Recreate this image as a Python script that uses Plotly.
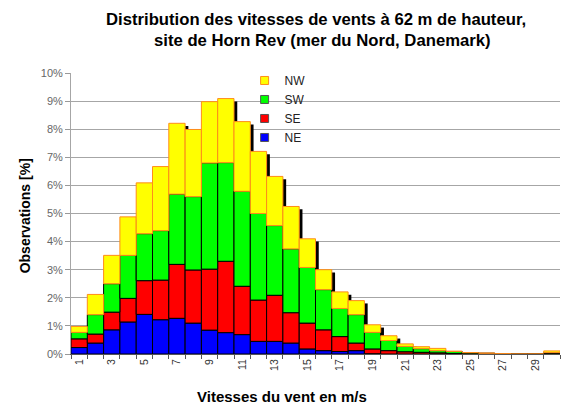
import plotly.graph_objects as go

speeds = list(range(1, 31))
NE = [0.23,0.39,0.86,1.14,1.41,1.22,1.27,1.10,0.85,0.76,0.69,0.45,0.45,0.39,0.18,0.12,0.09,0.12,0.01,0,0,0,0,0,0,0,0,0,0,0]
SE = [0.31,0.32,0.63,0.84,1.20,1.41,1.92,1.89,2.17,2.54,1.72,1.47,1.64,1.08,0.92,0.74,0.53,0.27,0.17,0.12,0.08,0.06,0.04,0.02,0.01,0.01,0,0,0,0.02]
SW = [0.23,0.69,1.01,1.53,1.67,1.76,2.50,2.61,3.78,3.51,3.38,3.08,2.48,2.27,1.98,1.43,1.00,1.01,0.59,0.36,0.19,0.13,0.08,0.07,0.04,0.02,0.01,0,0,0.03]
NW = [0.21,0.72,1.01,1.37,1.81,2.28,2.52,2.39,2.18,2.28,2.48,2.21,1.75,1.51,1.02,0.71,0.59,0.50,0.27,0.17,0.09,0.07,0.08,0.01,0,0,0,0,0,0.06]
y_ticks = list(range(0, 11))
x_ticks = list(range(1, 30, 2))

series = [("NE", NE, "#0000ff", "#000000"),
          ("SE", SE, "#ff0000", "#000000"),
          ("SW", SW, "#00ff00", "#000000"),
          ("NW", NW, "#ffff00", "#ff8c1a")]

totals = [a + b + c + d for a, b, c, d in zip(NE, SE, SW, NW)]

fig = go.Figure()
# drop shadow of each column
fig.add_trace(go.Bar(x=speeds, y=[t - 0.1 if t > 0.1 else 0 for t in totals], base=0,
                     width=1, offset=-0.3, marker=dict(color="#000000", line=dict(width=0)),
                     showlegend=False, hoverinfo="skip"))

base = [0.0] * len(speeds)
for name, vals, col, lcol in series:
    fig.add_trace(go.Bar(x=speeds, y=vals, base=list(base), name=name, width=1, offset=-0.5,
                         marker=dict(color=col, line=dict(color=lcol, width=1)),
                         showlegend=False))
    base = [b + v for b, v in zip(base, vals)]

# legend entries (small square swatches like the original)
for name, vals, col, lcol in series:
    fig.add_trace(go.Scatter(x=[None], y=[None], mode="markers", name=name,
                             marker=dict(symbol="square", size=8, color=col,
                                         line=dict(color=lcol if name == "NW" else "#555", width=1))))

fig.update_layout(
    width=563, height=408,
    barmode="overlay",
    margin=dict(l=71, r=3, t=73, b=54),
    paper_bgcolor="white", plot_bgcolor="white",
    font=dict(family="Liberation Sans, Arial, sans-serif", size=10, color="#333"),
    showlegend=True,
    legend=dict(x=0.355, y=1.025, xanchor="left", yanchor="top", traceorder="reversed",
                bgcolor="rgba(0,0,0,0)", font=dict(size=12, color="#222"),
                itemwidth=30, tracegroupgap=0),
    xaxis=dict(range=[0.5, 30.5], tickmode="array", tickvals=x_ticks, ticktext=[str(v) for v in x_ticks],
               tickangle=-90, ticks="outside", ticklen=0, showgrid=False,
               showline=True, linecolor="#555", linewidth=1,
               tickfont=dict(size=10.5, color="#333"),
               minor=dict(tickmode="linear", tick0=0.5, dtick=1, ticks="outside", ticklen=4,
                          tickcolor="#555", showgrid=False)),
    yaxis=dict(range=[0, 10], tickmode="array", tickvals=y_ticks, ticktext=[f"{v}%" for v in y_ticks],
               ticks="outside", ticklen=5, tickcolor="#999", showgrid=True, gridcolor="#a6a6a6",
               gridwidth=1, showline=True, linecolor="#a6a6a6", linewidth=1, zeroline=False,
               tickfont=dict(size=11, color="#666")),
    shapes=[dict(type="rect", xref="paper", yref="paper", x0=0.401, x1=0.48, y0=0.72, y1=1.02,
                 fillcolor="white", line=dict(width=0), layer="between")],
    annotations=[
        dict(text="<b>Distribution des vitesses de vents à 62 m de hauteur,</b>", xref="paper", yref="paper",
             x=0.5, y=1.192, xanchor="center", yanchor="middle", showarrow=False,
             font=dict(size=16.7, color="#000")),
        dict(text="<b>site de Horn Rev (mer du Nord, Danemark)</b>", xref="paper", yref="paper",
             x=0.515, y=1.114, xanchor="center", yanchor="middle", showarrow=False,
             font=dict(size=16.7, color="#000")),
        dict(text="<b>Observations [%]</b>", xref="paper", yref="paper", x=-0.094, y=0.49,
             xanchor="center", yanchor="middle", textangle=-90, showarrow=False,
             font=dict(size=14, color="#000")),
        dict(text="<b>Vitesses du vent en m/s</b>", xref="paper", yref="paper", x=0.432, y=-0.15,
             xanchor="center", yanchor="middle", showarrow=False,
             font=dict(size=15, color="#000")),
    ],
)

fig.write_html("out.html", config={"displayModeBar": False},
               post_script="document.body.style.margin='0';")
